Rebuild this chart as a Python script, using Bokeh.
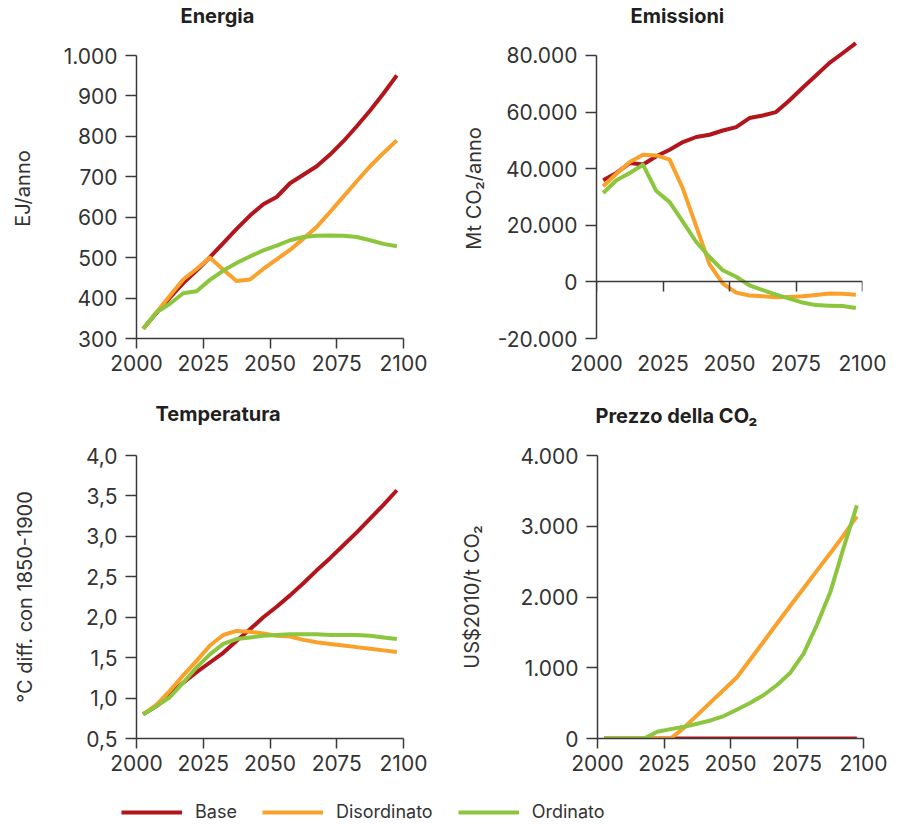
from bokeh.plotting import figure
from bokeh.models import FixedTicker, LinearAxis, Legend, LegendItem, Title, Range1d
from bokeh.layouts import column, row
from bokeh.embed import file_html
from bokeh.resources import INLINE

# ---------------- data ----------------
years = [2002.5, 2007.5, 2012.5, 2017.5, 2022.5, 2027.5, 2032.5, 2037.5, 2042.5, 2047.5,
         2052.5, 2057.5, 2062.5, 2067.5, 2072.5, 2077.5, 2082.5, 2087.5, 2092.5, 2097.5]

series_names = ["Base", "Disordinato", "Ordinato"]
series_colors = ["#b3151c", "#f9a12b", "#8cc63f"]

x_ticks = [2000, 2025, 2050, 2075, 2100]
x_tick_labels = ["2000", "2025", "2050", "2075", "2100"]

energia_base = [324, 363, 401, 437, 468, 501, 536, 571, 604, 632, 650, 684, 705, 726, 755, 788, 825, 864, 906, 951]
energia_disordinato = [324, 365, 406, 446, 472, 500, 470, 442, 446, 472, 496, 519, 547, 576, 613, 651, 689, 726, 759, 790]
energia_ordinato = [324, 365, 386, 412, 417, 445, 468, 487, 503, 518, 530, 543, 551, 554, 555, 554, 551, 543, 534, 528]
energia_ticks = [300, 400, 500, 600, 700, 800, 900, 1000]
energia_tick_labels = ["300", "400", "500", "600", "700", "800", "900", "1.000"]

emissioni_base = [35900, 38500, 42000, 41500, 44400, 46700, 49400, 51200, 52000, 53500,
                  54700, 57900, 58800, 60000, 64100, 68600, 72900, 77300, 80800, 84400]
emissioni_disordinato = [33800, 38200, 42400, 44900, 44700, 43200, 32900, 19600, 6200, -600,
                         -3800, -4800, -5100, -5400, -5300, -5100, -4600, -4100, -4200, -4500]
emissioni_ordinato = [31400, 35900, 38500, 41400, 32100, 28200, 21200, 14100, 8800, 4100,
                      1800, -1200, -2900, -4500, -5900, -7300, -8200, -8400, -8500, -9200]
emissioni_ticks = [-20000, 0, 20000, 40000, 60000, 80000]
emissioni_tick_labels = ["-20.000", "0", "20.000", "40.000", "60.000", "80.000"]

temperatura_base = [0.80, 0.90, 1.05, 1.19, 1.32, 1.44, 1.56, 1.71, 1.85, 2.00,
                    2.13, 2.27, 2.42, 2.58, 2.73, 2.89, 3.05, 3.22, 3.39, 3.57]
temperatura_disordinato = [0.80, 0.92, 1.09, 1.28, 1.46, 1.65, 1.78, 1.83, 1.82, 1.80,
                           1.77, 1.76, 1.72, 1.69, 1.67, 1.65, 1.63, 1.61, 1.59, 1.57]
temperatura_ordinato = [0.80, 0.90, 1.01, 1.19, 1.38, 1.54, 1.67, 1.73, 1.75, 1.77,
                        1.78, 1.79, 1.79, 1.79, 1.78, 1.78, 1.78, 1.77, 1.75, 1.73]
temperatura_ticks = [0.5, 1.0, 1.5, 2.0, 2.5, 3.0, 3.5, 4.0]
temperatura_tick_labels = ["0,5", "1,0", "1,5", "2,0", "2,5", "3,0", "3,5", "4,0"]

prezzo_base = [0, 0, 0, 0, 0, 0, 0, 0, 0, 0, 0, 0, 0, 0, 0, 0, 0, 0, 0, 0]
prezzo_disordinato = [0, 0, 0, 0, 0, 0, 151, 331, 511, 690,
                      870, 1120, 1371, 1626, 1877, 2123, 2373, 2619, 2870, 3139]
prezzo_ordinato = [0, 0, 0, 0, 95, 132, 165, 208, 255, 317,
                   411, 506, 615, 756, 930, 1200, 1608, 2066, 2695, 3295]
prezzo_ticks = [0, 1000, 2000, 3000, 4000]
prezzo_tick_labels = ["0", "1.000", "2.000", "3.000", "4.000"]

# ---------------- style ----------------
FONT = "Inter"
TXT = "#333333"
TITLE_COL = "#231f20"
AX = "#3a3a3a"


def style_axis(ax, tick_out):
    ax.axis_line_color = AX
    ax.axis_line_width = 1.5
    ax.major_tick_line_color = AX
    ax.major_tick_line_width = 1.5
    ax.major_tick_in = 0
    ax.major_tick_out = tick_out
    ax.minor_tick_line_color = None
    ax.major_label_text_font = FONT
    ax.major_label_text_font_size = "21px"
    ax.major_label_text_color = TXT


def build_panel(title_text, title_offset, spacer_gap, ylabel, ylabel_standoff,
                yticks, ylabels, ymin, ymax, yview_max, values, width, height,
                ml, mr, mt, mb, zero_axis=False):
    p = figure(width=width, height=height, title=title_text,
               x_range=Range1d(2000, 2100), y_range=Range1d(ymin, yview_max),
               output_backend="svg", toolbar_location=None,
               min_border_left=ml, min_border_right=mr,
               min_border_top=mt, min_border_bottom=mb)
    p.outline_line_color = None
    p.xgrid.visible = False
    p.ygrid.visible = False
    p.background_fill_color = "white"
    p.border_fill_color = "white"

    p.title.text_font = FONT
    p.title.text_font_size = "20px"
    p.title.text_font_style = "bold"
    p.title.text_color = TITLE_COL
    p.title.align = "left"
    p.title.offset = title_offset
    p.title.vertical_align = "top"
    p.title.standoff = -4
    p.add_layout(Title(text=" ", text_font_size="1px", standoff=spacer_gap), "above")

    for vals, color in zip(values, series_colors):
        p.line(years, vals, line_color=color, line_width=4, line_join="round")

    xa = p.xaxis[0]
    style_axis(xa, 10)
    xa.ticker = FixedTicker(ticks=x_ticks)
    xa.major_label_overrides = dict(zip(x_ticks, x_tick_labels))
    xa.major_label_standoff = 6

    ya = p.yaxis[0]
    style_axis(ya, 11)
    ya.ticker = FixedTicker(ticks=yticks)
    ya.major_label_overrides = dict(zip(yticks, ylabels))
    ya.major_label_standoff = 8
    ya.bounds = (ymin, ymax)
    ya.axis_label = ylabel
    ya.axis_label_text_font = FONT
    ya.axis_label_text_font_size = "20px"
    ya.axis_label_text_font_style = "normal"
    ya.axis_label_text_color = TXT
    ya.axis_label_standoff = ylabel_standoff

    if zero_axis:
        xa.axis_line_color = None
        xa.major_tick_line_color = None
        za = LinearAxis(fixed_location=0, ticker=FixedTicker(ticks=x_ticks))
        style_axis(za, 10)
        za.major_label_text_font_size = "1px"
        za.major_label_text_color = None
        za.major_label_standoff = 0
        p.add_layout(za, "below")
    return p


# top row: plot area extends a little above the top tick (the Base emissions
# line rises past 80.000); the axes themselves stop at the top tick.
p1 = build_panel("Energia", 44, 8, "EJ/anno", 26,
                 energia_ticks, energia_tick_labels, 300, 1000, 1042.05,
                 [energia_base, energia_disordinato, energia_ordinato],
                 450, 398, 136, 47, 38, 60)
p2 = build_panel("Emissioni", 34, 8, "Mt CO\u2082/anno", 9,
                 emissioni_ticks, emissioni_tick_labels, -20000, 80000, 86007,
                 [emissioni_base, emissioni_disordinato, emissioni_ordinato],
                 448, 398, 146, 36, 38, 60, zero_axis=True)
p3 = build_panel("Temperatura", 19, 27, "\u00b0C diff. con 1850-1900", 46,
                 temperatura_ticks, temperatura_tick_labels, 0.5, 4.0, 4.0,
                 [temperatura_base, temperatura_disordinato, temperatura_ordinato],
                 450, 382, 136, 47, 57, 42)
p4 = build_panel("Prezzo della CO\u2082", -2, 25, "US$2010/t CO\u2082", 33,
                 prezzo_ticks, prezzo_tick_labels, 0, 4000, 4000,
                 [prezzo_base, prezzo_disordinato, prezzo_ordinato],
                 448, 382, 147, 35, 57, 42)

# ---------------- legend ----------------
pl = figure(width=898, height=42, x_range=Range1d(0, 1), y_range=Range1d(0, 1),
            output_backend="svg", toolbar_location=None,
            x_axis_type=None, y_axis_type=None,
            min_border_left=0, min_border_right=0, min_border_top=0, min_border_bottom=0)
pl.outline_line_color = None
pl.xgrid.visible = False
pl.ygrid.visible = False
items = []
# the lines lie outside this strip's ranges: only their legend glyphs are seen
for name, color, vals in zip(series_names, series_colors,
                             [energia_base, energia_disordinato, energia_ordinato]):
    r = pl.line(years, vals, line_color=color, line_width=4)
    items.append(LegendItem(label=name, renderers=[r]))
legend = Legend(items=items, orientation="horizontal", location=(121, 0),
                glyph_width=61, glyph_height=20, label_standoff=13, spacing=25,
                padding=0, margin=0, border_line_color=None, background_fill_alpha=0,
                label_text_font=FONT, label_text_font_size="18px", label_text_color=TXT)
pl.add_layout(legend)

layout = column(row(p1, p2), row(p3, p4), pl)
open("out.html", "w").write(file_html(layout, INLINE))
